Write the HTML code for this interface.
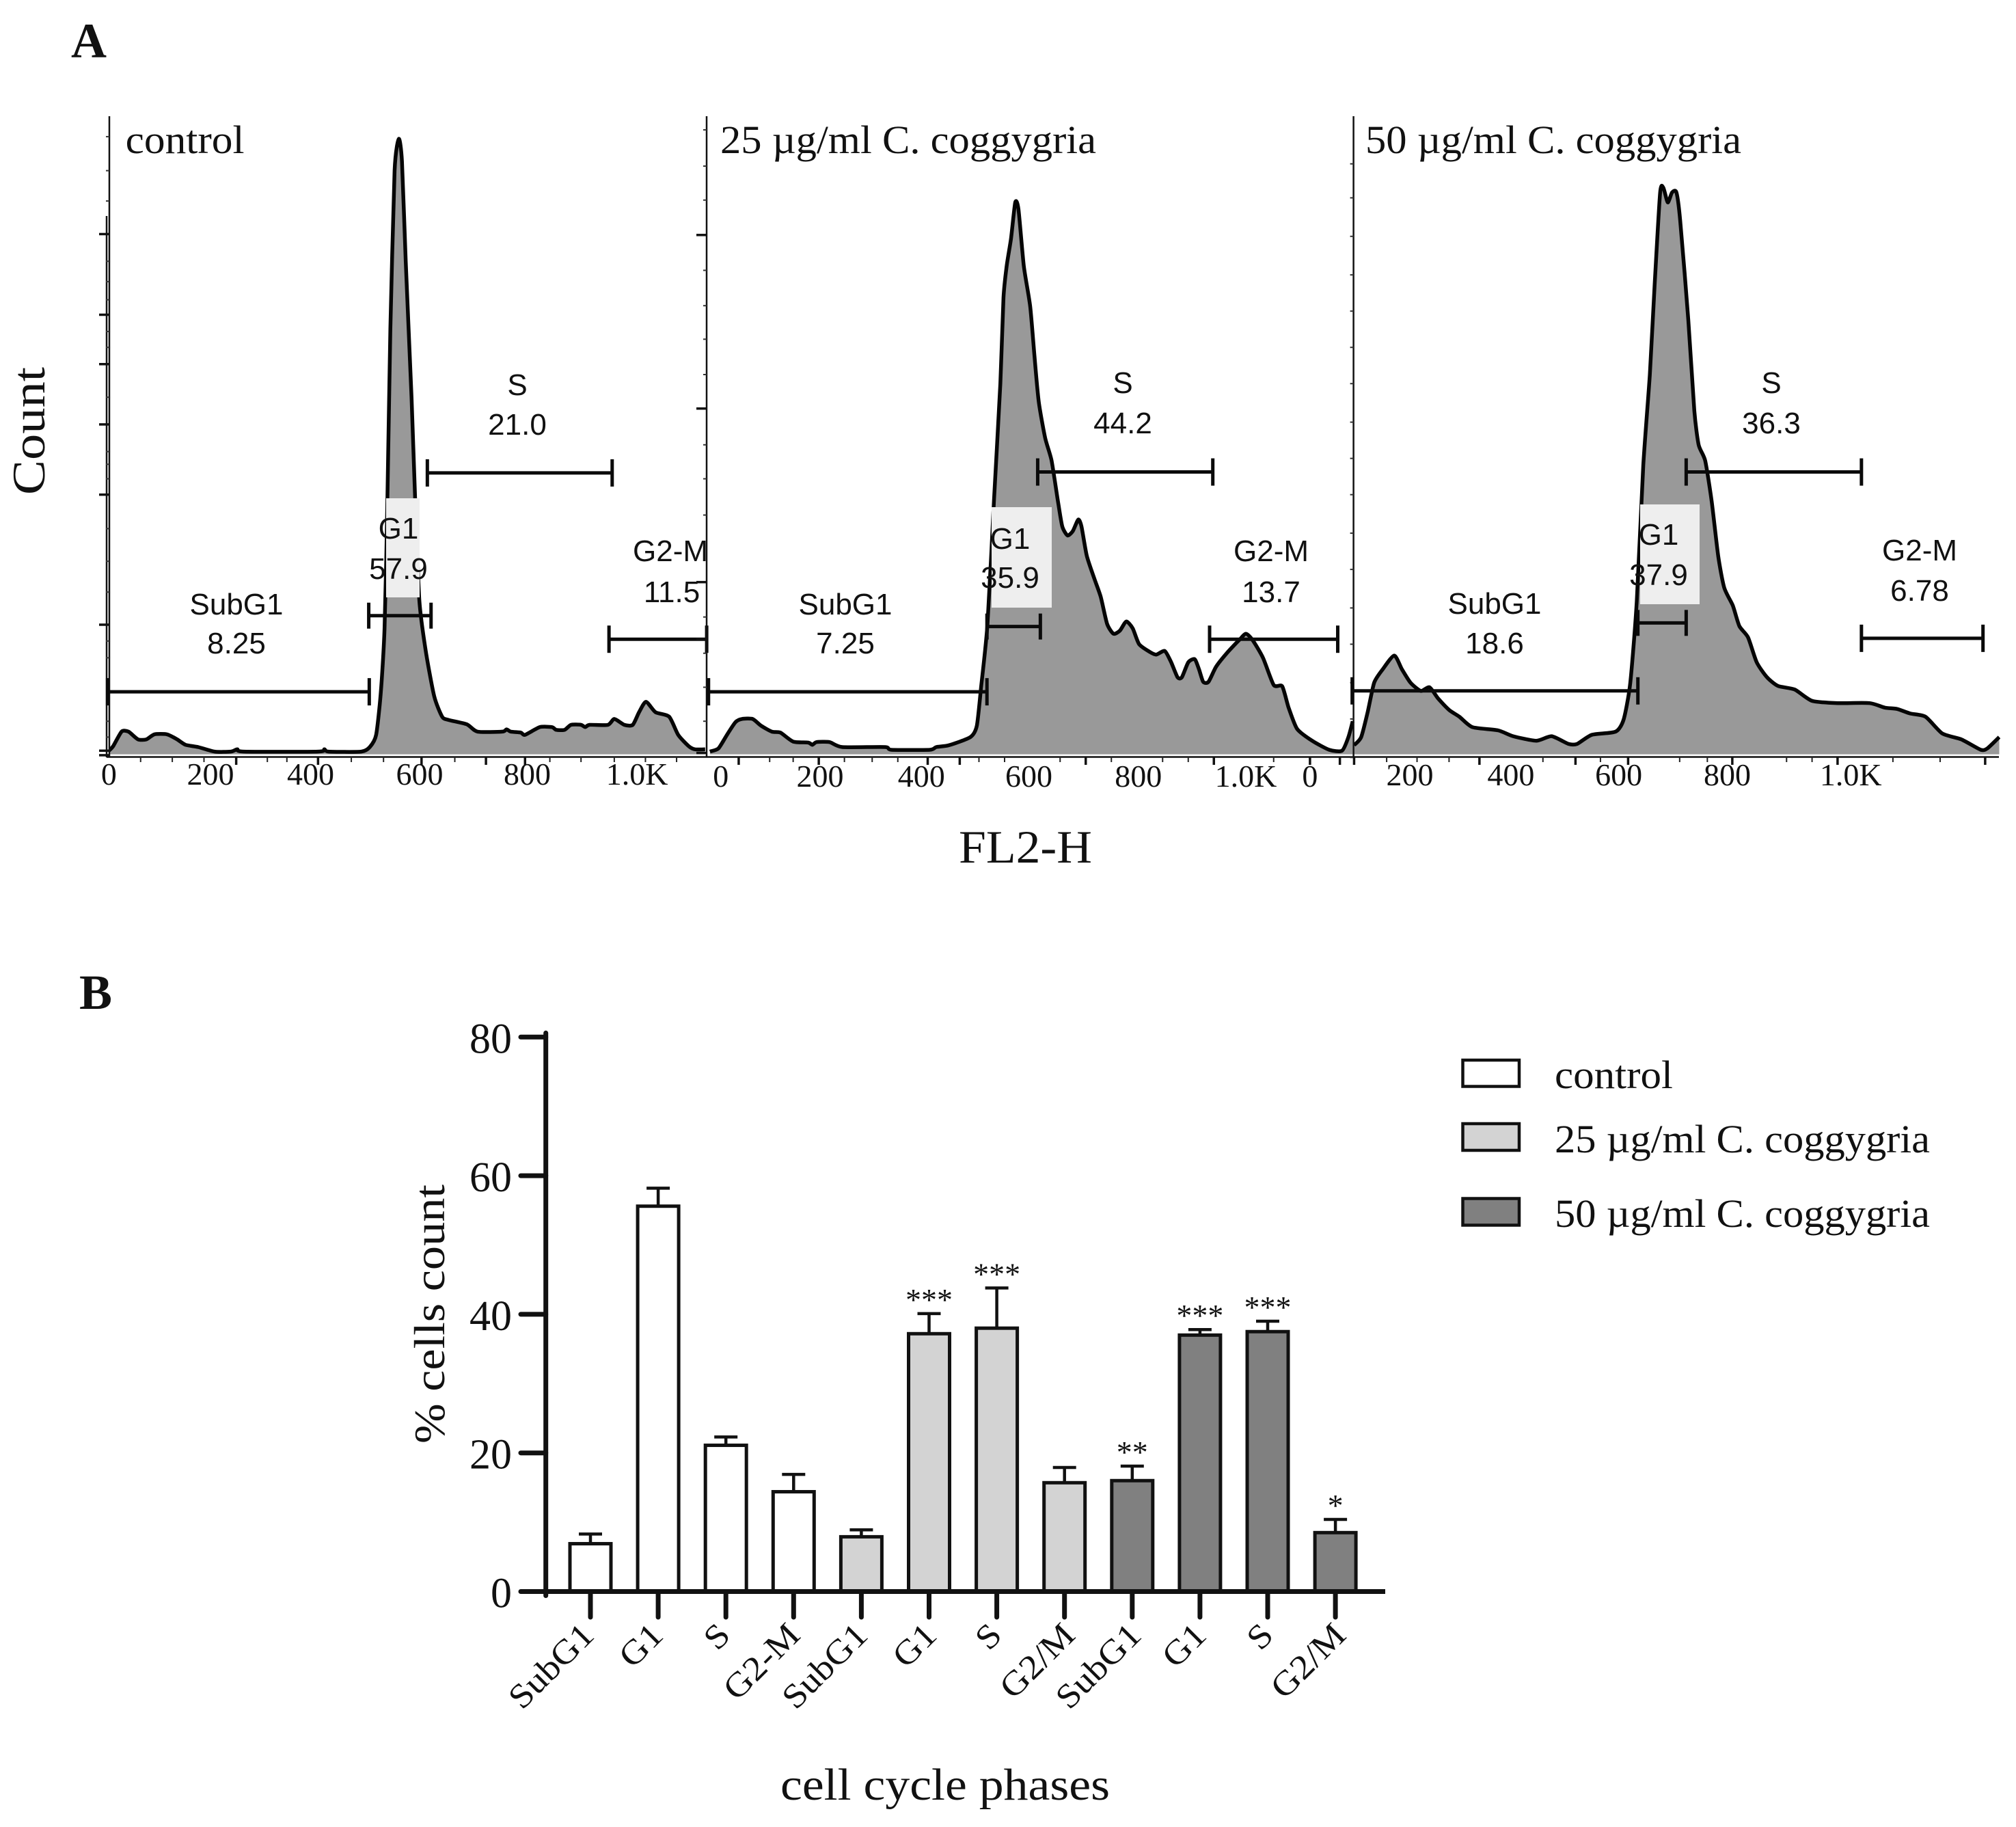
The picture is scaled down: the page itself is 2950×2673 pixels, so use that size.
<!DOCTYPE html>
<html lang="en">
<head>
<meta charset="utf-8">
<title>Cell cycle histograms and bar chart</title>
<style>
html,body{margin:0;padding:0;background:#fff}
svg{display:block}
.serif{font-family:"Liberation Serif",serif;fill:#111}
.sans{font-family:"Liberation Sans",sans-serif;font-size:44px;fill:#111;text-anchor:middle}
</style>
</head>
<body>
<svg id="fig" xmlns="http://www.w3.org/2000/svg" width="2950" height="2673" viewBox="0 0 2950 2673">
<rect x="0" y="0" width="2950" height="2673" fill="#fff"/>
<g id="hist-layer"></g>
<g id="bar-layer"></g>

<text class="serif" x="104" y="84" font-size="72" font-weight="bold">A</text>
<text class="serif" x="116" y="1476" font-size="72" font-weight="bold">B</text>

<text class="serif" x="183.6" y="224" font-size="58" textLength="174" lengthAdjust="spacingAndGlyphs">control</text>
<text class="serif" x="1054" y="224" font-size="58" textLength="550" lengthAdjust="spacingAndGlyphs">25 µg/ml C. coggygria</text>
<text class="serif" x="1998" y="224" font-size="58" textLength="550" lengthAdjust="spacingAndGlyphs">50 µg/ml C. coggygria</text>

<text class="serif" transform="translate(65,724) rotate(-90)" font-size="68" textLength="187" lengthAdjust="spacingAndGlyphs">Count</text>
<text class="serif" x="1412" y="1262" font-size="68" textLength="195" lengthAdjust="spacingAndGlyphs" transform="translate(-9,0)">FL2-H</text>

<g id="gate-text">
<text class="sans" x="346" y="899">SubG1</text>
<text class="sans" x="346" y="956">8.25</text>
<text class="sans" x="583" y="788">G1</text>
<text class="sans" x="583" y="847">57.9</text>
<text class="sans" x="757" y="578">S</text>
<text class="sans" x="757" y="636">21.0</text>
<text class="sans" x="981" y="821">G2-M</text>
<text class="sans" x="983" y="881">11.5</text>

<text class="sans" x="1237" y="899">SubG1</text>
<text class="sans" x="1237" y="956">7.25</text>
<text class="sans" x="1478" y="803">G1</text>
<text class="sans" x="1478" y="860">35.9</text>
<text class="sans" x="1643" y="575">S</text>
<text class="sans" x="1643" y="634">44.2</text>
<text class="sans" x="1860" y="821">G2-M</text>
<text class="sans" x="1860" y="881">13.7</text>

<text class="sans" x="2187" y="898">SubG1</text>
<text class="sans" x="2187" y="956">18.6</text>
<text class="sans" x="2427" y="797">G1</text>
<text class="sans" x="2427" y="856">37.9</text>
<text class="sans" x="2592" y="575">S</text>
<text class="sans" x="2592" y="634">36.3</text>
<text class="sans" x="2809" y="820">G2-M</text>
<text class="sans" x="2809" y="879">6.78</text>
</g>

<text class="serif" transform="translate(650,2112) rotate(-90)" font-size="64" textLength="379" lengthAdjust="spacingAndGlyphs">% cells count</text>
<text class="serif" x="1142" y="2633" font-size="66" textLength="482" lengthAdjust="spacingAndGlyphs">cell cycle phases</text>

<g id="legend">
<rect x="2140.5" y="1551" width="82.5" height="38.5" fill="#fff" stroke="#111" stroke-width="4.5"/>
<text class="serif" x="2275" y="1592" font-size="58" textLength="173" lengthAdjust="spacingAndGlyphs">control</text>
<rect x="2140.5" y="1644" width="82.5" height="39" fill="#d3d3d3" stroke="#111" stroke-width="4.5"/>
<text class="serif" x="2275" y="1686" font-size="58" textLength="549" lengthAdjust="spacingAndGlyphs">25 µg/ml C. coggygria</text>
<rect x="2140.5" y="1753.5" width="82.5" height="39" fill="#808080" stroke="#111" stroke-width="4.5"/>
<text class="serif" x="2275" y="1795" font-size="58" textLength="549" lengthAdjust="spacingAndGlyphs">50 µg/ml C. coggygria</text>
</g>
</svg>

<script>
/* ---------- Panel A data: histogram channel values and event counts ---------- */
var controlChannels = [0,8,24,37,55,71,86,110,129,145,169,200,231,243,255,396,408,416,478,494,506,515,522,527,533,541,549,555,562,573,580,588,600,616,631,643,678,698,745,753,761,780,788,816,839,847,863,875,894,902,910,945,957,976,992,1004,1017,1035,1061,1078,1098,1110,1129];
var controlCounts = [8,18,50,50,33,33,44,44,33,21,16,6,6,11,6,6,11,6,6,16,43,138,278,538,938,1288,1358,1308,1088,788,558,338,228,128,83,76,66,50,50,55,50,48,43,60,60,54,54,65,65,60,65,65,78,65,65,93,116,93,83,43,18,11,11];

var c25Channels = [0,16,32,48,60,80,96,116,132,156,184,192,200,224,248,328,340,412,424,448,488,500,508,520,532,544,550,556,564,572,578,588,600,608,616,628,640,652,660,670,680,690,696,706,720,732,744,756,768,780,792,804,824,836,852,864,876,884,896,908,916,924,934,948,968,992,1004,1016,1036,1056,1072,1084,1100,1128,1160,1184,1196,1204];
var c25Counts = [6,13,43,71,78,78,63,50,48,28,26,21,27,27,16,16,10,10,16,20,38,63,148,288,558,818,1008,1078,1138,1218,1203,1078,988,878,778,698,648,558,503,483,493,518,503,438,388,348,288,266,273,293,278,243,226,220,228,203,170,170,203,210,188,160,160,193,223,253,266,253,213,153,150,103,56,30,10,8,38,73];

var c50Channels = [101,114,126,138,154,175,189,205,224,240,256,276,295,319,366,394,437,465,496,512,539,583,598,610,622,634,646,655,665,671,679,687,695,702,717,728,736,748,760,772,783,799,811,827,843,862,882,913,945,992,1051,1079,1102,1126,1154,1185,1220,1256,1268,1290];
var c50Counts = [20,38,93,158,188,218,188,158,140,148,123,98,83,60,53,40,30,40,23,23,43,50,78,158,338,638,838,1038,1240,1250,1218,1240,1240,1178,958,758,683,648,558,438,368,328,283,258,203,170,151,143,118,113,113,103,100,90,83,46,33,10,13,38];

var panelNames = ['control','25ug','50ug'];

var gateNames = ['subg1','g1','s','g2m'];
var controlGateStart = [0,492,603,947];
var controlGateEnd = [493,610,953,1132];
var controlGateLevel = [138,306,621,254];
var c25GateStart = [0,519,614,936];
var c25GateEnd = [519,619,942,1176];
var c25GateLevel = [138,282,623,254];
var c50GateStart = [100,624,713,1036];
var c50GateEnd = [624,713,1036,1260];
var c50GateLevel = [140,290,623,256];

var controlYMajor = [1148,970,861,728,573,286,8,-2];
var controlYMinor = [1363,1288,1221,1088,1043,1003,933,898,788,668,640,608,498,426,358,250,213,148,73,38];
var c25YMajor = [1146,763,380,254,3];
var c25YMinor = [1378,1298,1223,1068,990,916,838,683,608,528,303,223,148,73];
var c50YMajor = [];
var c50YMinor = [1303,1228,1143,1058,978,898,818,733,653,573,488,408,323,243,158,78,-7];

var controlXMajor = [241,396,592,714,788];
var controlXMinor = [60,120,180,300,337,459,520,655,835,894,957,1016,1075];
var c25XMajor = [54,204,408,468,704,944,1124,1180];
var c25XMinor = [112,156,252,304,352,504,552,656,752,848,896,1056];
var c50XMajor = [101,332,509,606,798,992,1264];
var c50XMinor = [161,217,276,449,555,701,752,898,945,1094,1181];

var controlTickValues = [0,200,400,600,800,1000];
var controlTickLabels = ['0','200','400','600','800','1.0K'];
var c25TickValues = [0,200,400,600,800,1000,1124];
var c25TickLabels = ['0','200','400','600','800','1.0K','0'];
var c50TickValues = [200,400,600,800,1000];
var c50TickLabels = ['200','400','600','800','1.0K'];

/* ---------- Panel B data ---------- */
var phaseLabels = ['SubG1','G1','S','G2-M','SubG1','G1','S','G2/M','SubG1','G1','S','G2/M'];
var phaseMeans = [6.9,55.6,21.1,14.4,7.9,37.2,38,15.7,16,37,37.5,8.5];
var phaseErrorTops = [8.3,58.2,22.3,16.9,8.9,40.1,43.8,17.9,18.1,37.8,39,10.4];
var phaseGroups = [0,0,0,0,1,1,1,1,2,2,2,2];
var phaseStars = ['','','','','','***','***','','**','***','***','*'];
var groupColors = ['#ffffff','#d3d3d3','#808080'];
var yTickValues = [0,20,40,60,80];

/* ---------- Helpers ---------- */
var SVGNS = 'http://www.w3.org/2000/svg';
var histLayer = document.getElementById('hist-layer');
var barLayer = document.getElementById('bar-layer');
function mk(tag, attrs, parent) {
  var el = document.createElementNS(SVGNS, tag);
  for (var k in attrs) { el.setAttribute(k, attrs[k]); }
  parent.appendChild(el);
  return el;
}
/* Smooth curve through a list of screen points (soft Catmull-Rom). */
function curveThrough(xs, ys) {
  var d = '';
  var f = 1 / 9;
  for (var i = 0; i < xs.length - 1; i++) {
    var a = Math.max(i - 1, 0), b = Math.min(i + 2, xs.length - 1);
    var c1x = xs[i] + (xs[i + 1] - xs[a]) * f, c1y = ys[i] + (ys[i + 1] - ys[a]) * f;
    var c2x = xs[i + 1] - (xs[b] - xs[i]) * f, c2y = ys[i + 1] - (ys[b] - ys[i]) * f;
    d += 'C' + c1x.toFixed(1) + ' ' + c1y.toFixed(1) + ' ' + c2x.toFixed(1) + ' ' + c2y.toFixed(1) + ' ' + xs[i + 1].toFixed(1) + ' ' + ys[i + 1].toFixed(1);
  }
  return d;
}

/* ---------- Histogram axis functions ---------- */
var histBaseY = 1103.6;
var histCountScale = 0.663;
function yCount(c) { return histBaseY - c * histCountScale; }
var panelX0 = [159.4, 1038.75, 1901.25];
var panelK = [0.7727, 0.78125, 0.794];
var panelAxisX = [160, 1034, 1980.6];
var panelRight = [1034, 1980.6, 2925];
var labelNudges = [[0,-6,-14,-9,-6,0],[16,5,-3,-2,2,3,0],[3,-8,-9,-9,13]];
var labelY = [1148,1151,1149];
var boxX = [565,1451,2400];
var boxW = [49,88,87];
var boxY = [729,742,738];
var boxH = [145,147,146];

function drawPanel(p, channels, counts, gStart, gEnd, gLevel, yMajor, yMinor, xMajor, xMinor, tickValues, tickLabels) {
  var name = panelNames[p];
  function xCh(v) { return panelX0[p] + v * panelK[p]; }
  var g = mk('g', {}, histLayer);
  
  

  var clipId = 'clip-' + name;
  var defs = mk('defs', {}, g);
  var cp = mk('clipPath', {id: clipId}, defs);
  mk('rect', {x: panelAxisX[p], y: 150, width: panelRight[p] - panelAxisX[p] + 2, height: 980}, cp);

  var xs = channels.map(xCh);
  var ys = counts.map(yCount);
  var curve = curveThrough(xs, ys);
  var startPt = 'M' + xs[0].toFixed(1) + ' ' + ys[0].toFixed(1);
  var area = mk('path', {
    d: 'M' + xs[0].toFixed(1) + ' ' + histBaseY + 'L' + xs[0].toFixed(1) + ' ' + ys[0].toFixed(1) + curve + 'L' + xs[xs.length - 1].toFixed(1) + ' ' + histBaseY + 'Z',
    fill: '#999999', 'clip-path': 'url(#' + clipId + ')'
  }, g);
  
  
  var line = mk('path', {
    d: startPt + curve, fill: 'none', stroke: '#050505', 'stroke-width': 5.5,
    'stroke-linejoin': 'round', 'clip-path': 'url(#' + clipId + ')'
  }, g);
  
  

  var box = mk('rect', {x: boxX[p], y: boxY[p], width: boxW[p], height: boxH[p], fill: '#eeeeee'}, g);
  
  

  var ax = panelAxisX[p];
  var axisV = mk('line', {x1: ax, x2: ax, y1: 170, y2: 1108, stroke: '#111', 'stroke-width': 2.5}, g);
  
  
  var axisH = mk('line', {x1: ax - (p === 0 ? 4 : 0), x2: panelRight[p], y1: 1107.5, y2: 1107.5, stroke: '#111', 'stroke-width': 2.5}, g);
  
  
  if (p === 0) {
    var axis2 = mk('line', {x1: 156, x2: 156, y1: 316, y2: 1108, stroke: '#111', 'stroke-width': 2.5}, g);
    
    
  }

  yMajor.forEach(function (c) {
    var t = mk('line', {x1: ax - 15, x2: ax, y1: yCount(c), y2: yCount(c), stroke: '#111', 'stroke-width': 3.5}, g);
    
    
  });
  yMinor.forEach(function (c) {
    var t = mk('line', {x1: ax - 5, x2: ax, y1: yCount(c), y2: yCount(c), stroke: '#333', 'stroke-width': 2}, g);
    
    
  });
  xMajor.forEach(function (v) {
    var t = mk('line', {x1: xCh(v), x2: xCh(v), y1: 1107, y2: 1119, stroke: '#111', 'stroke-width': 3.5}, g);
    
    
  });
  xMinor.forEach(function (v) {
    var t = mk('line', {x1: xCh(v), x2: xCh(v), y1: 1107, y2: 1115, stroke: '#222', 'stroke-width': 2}, g);
    
    
  });
  tickValues.forEach(function (v, i) {
    var t = mk('text', {
      x: xCh(v) + labelNudges[p][i], y: labelY[p], 'text-anchor': 'middle',
      'class': 'serif', 'font-size': 46
    }, g);
    t.textContent = tickLabels[i];
    
    
  });

  gateNames.forEach(function (gn, i) {
    var gy = yCount(gLevel[i]);
    var x1 = xCh(gStart[i]) , x2 = xCh(gEnd[i]);
    if (i === 0) { x1 = x1 - 2; }
    var gg = mk('g', {stroke: '#0a0a0a'}, g);
    
    
    mk('line', {x1: x1, x2: x2, y1: gy, y2: gy, 'stroke-width': 5}, gg);
    var cap = i === 1 ? 19 : 20;
    mk('line', {x1: x1, x2: x1, y1: gy - cap, y2: gy + cap, 'stroke-width': 5}, gg);
    mk('line', {x1: x2, x2: x2, y1: gy - cap, y2: gy + cap, 'stroke-width': 5}, gg);
  });
}

drawPanel(0, controlChannels, controlCounts, controlGateStart, controlGateEnd, controlGateLevel, controlYMajor, controlYMinor, controlXMajor, controlXMinor, controlTickValues, controlTickLabels);
drawPanel(1, c25Channels, c25Counts, c25GateStart, c25GateEnd, c25GateLevel, c25YMajor, c25YMinor, c25XMajor, c25XMinor, c25TickValues, c25TickLabels);
drawPanel(2, c50Channels, c50Counts, c50GateStart, c50GateEnd, c50GateLevel, c50YMajor, c50YMinor, c50XMajor, c50XMinor, c50TickValues, c50TickLabels);

/* ---------- Bar chart axis functions ---------- */
function yPct(v) { return 2328.5 - v * 10.14; }
function xBar(i) { return 864 + i * 99.1; }
var barWidth = 60;
var barLabelShift = [0,2,1,4,4,6,2,10,8,4,3,10];

phaseMeans.forEach(function (m, i) {
  var cx = xBar(i);
  var top = yPct(m), errTop = yPct(phaseErrorTops[i]);
  var err = mk('g', {stroke: '#111', 'stroke-width': 4.5}, barLayer);
  
  
  mk('line', {x1: cx, x2: cx, y1: top, y2: errTop}, err);
  mk('line', {x1: cx - 17, x2: cx + 17, y1: errTop, y2: errTop}, err);
  var r = mk('rect', {
    x: cx - barWidth / 2, y: top, width: barWidth, height: yPct(0) - top,
    fill: groupColors[phaseGroups[i]], stroke: '#111', 'stroke-width': 5
  }, barLayer);
  
  
  if (phaseStars[i]) {
    var s = mk('text', {x: cx, y: errTop - 5, 'text-anchor': 'middle', 'class': 'serif', 'font-size': 46}, barLayer);
    s.textContent = phaseStars[i];
    
    
  }
  var t = mk('line', {x1: cx, x2: cx, y1: yPct(0), y2: 2366, stroke: '#111', 'stroke-width': 7, 'stroke-linecap': 'round'}, barLayer);
  
  
  var lab = mk('text', {
    transform: 'translate(' + (cx + 8 + barLabelShift[i]) + ',2395) rotate(-45) scale(1.1,1)',
    'text-anchor': 'end', 'class': 'serif', 'font-size': 50
  }, barLayer);
  lab.textContent = phaseLabels[i];
  
  
});

var barAxisY = mk('line', {x1: 798.7, x2: 798.7, y1: yPct(80) - 6, y2: yPct(0) + 6, stroke: '#111', 'stroke-width': 7, 'stroke-linecap': 'round'}, barLayer);


var barAxisX = mk('line', {x1: 762, x2: 2027, y1: yPct(0), y2: yPct(0), stroke: '#111', 'stroke-width': 7}, barLayer);


yTickValues.forEach(function (v) {
  var t = mk('line', {x1: 762, x2: 798.7, y1: yPct(v), y2: yPct(v), stroke: '#111', 'stroke-width': 7, 'stroke-linecap': 'round'}, barLayer);
  
  
  var l = mk('text', {x: 749, y: yPct(v) + 23, 'text-anchor': 'end', 'class': 'serif', 'font-size': 62}, barLayer);
  l.textContent = String(v);
  
  
});
</script>
</body>
</html>
